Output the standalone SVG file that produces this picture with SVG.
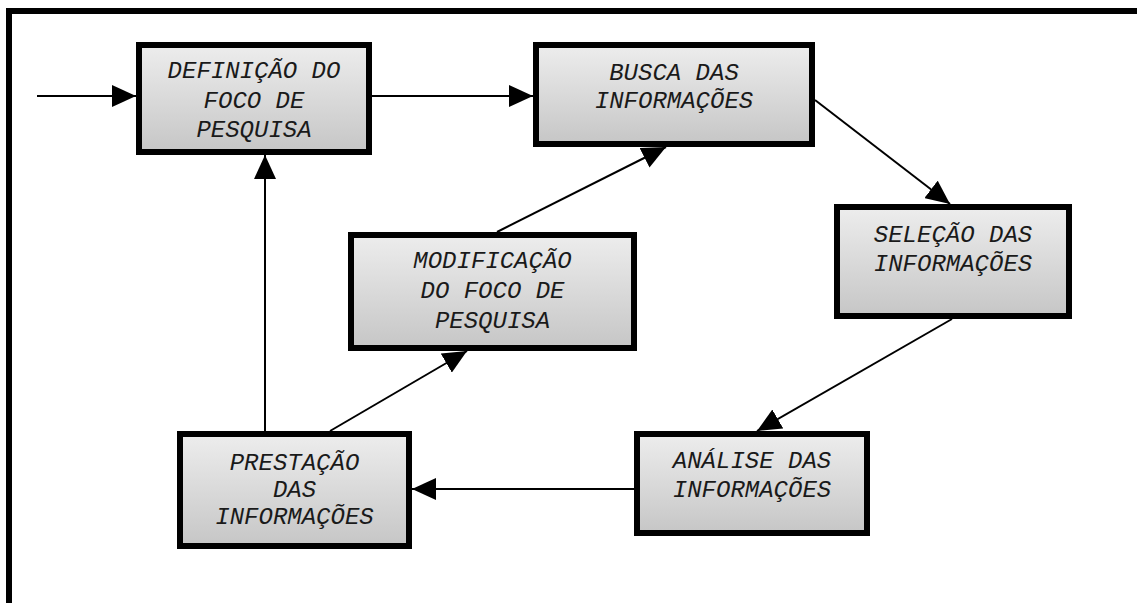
<svg xmlns="http://www.w3.org/2000/svg" width="1137" height="603" viewBox="0 0 1137 603">
<defs>
<linearGradient id="g" x1="0" y1="0" x2="0" y2="1">
<stop offset="0" stop-color="#ededed"/>
<stop offset="1" stop-color="#c6c6c6"/>
</linearGradient>
<marker id="ah" markerWidth="24" markerHeight="22" refX="24" refY="11" orient="auto" markerUnits="userSpaceOnUse">
<path d="M0,0 L24,11 L0,22 Z" fill="#000"/>
</marker>
<style>
.box{fill:url(#g);stroke:#000;stroke-width:6}
.t{font-family:"Liberation Mono","Courier New",monospace;font-style:italic;font-size:24px;fill:#1a1a1a;text-anchor:middle}
.c{stroke:#000;stroke-width:2;fill:none;marker-end:url(#ah)}
</style>
</defs>
<rect width="1137" height="603" fill="#fff"/>
<path d="M9,603 V11 H1137" fill="none" stroke="#000" stroke-width="6"/>
<g id="connectors">
<line class="c" x1="37" y1="96" x2="136" y2="96"/>
<line class="c" x1="372" y1="96" x2="533" y2="96"/>
<line class="c" x1="815" y1="100" x2="950" y2="204"/>
<line class="c" x1="952" y1="319" x2="757" y2="431"/>
<line class="c" x1="634" y1="489" x2="412" y2="489"/>
<line class="c" x1="265" y1="431" x2="265" y2="155"/>
<line class="c" x1="330" y1="431" x2="467" y2="351"/>
<line class="c" x1="497" y1="232" x2="666" y2="147"/>
</g>
<g id="n1">
<rect class="box" x="139" y="45" width="230" height="107"/>
<text class="t" x="254" y="78">DEFINIÇÃO DO</text>
<text class="t" x="254" y="107.5">FOCO DE</text>
<text class="t" x="254" y="137">PESQUISA</text>
</g>
<g id="n2">
<rect class="box" x="536" y="45" width="276" height="99"/>
<text class="t" x="674" y="80">BUSCA DAS</text>
<text class="t" x="674" y="108">INFORMAÇÕES</text>
</g>
<g id="n3">
<rect class="box" x="837" y="207" width="232" height="109"/>
<text class="t" x="953" y="242">SELEÇÃO DAS</text>
<text class="t" x="953" y="271">INFORMAÇÕES</text>
</g>
<g id="n4">
<rect class="box" x="637" y="434" width="230" height="99"/>
<text class="t" x="752" y="468">ANÁLISE DAS</text>
<text class="t" x="752" y="497">INFORMAÇÕES</text>
</g>
<g id="n5">
<rect class="box" x="180" y="434" width="229" height="112"/>
<text class="t" x="294.5" y="470">PRESTAÇÃO</text>
<text class="t" x="294.5" y="497">DAS</text>
<text class="t" x="294.5" y="524">INFORMAÇÕES</text>
</g>
<g id="n6">
<rect class="box" x="351" y="235" width="283" height="113"/>
<text class="t" x="492.5" y="268">MODIFICAÇÃO</text>
<text class="t" x="492.5" y="298">DO FOCO DE</text>
<text class="t" x="492.5" y="328">PESQUISA</text>
</g>
</svg>
